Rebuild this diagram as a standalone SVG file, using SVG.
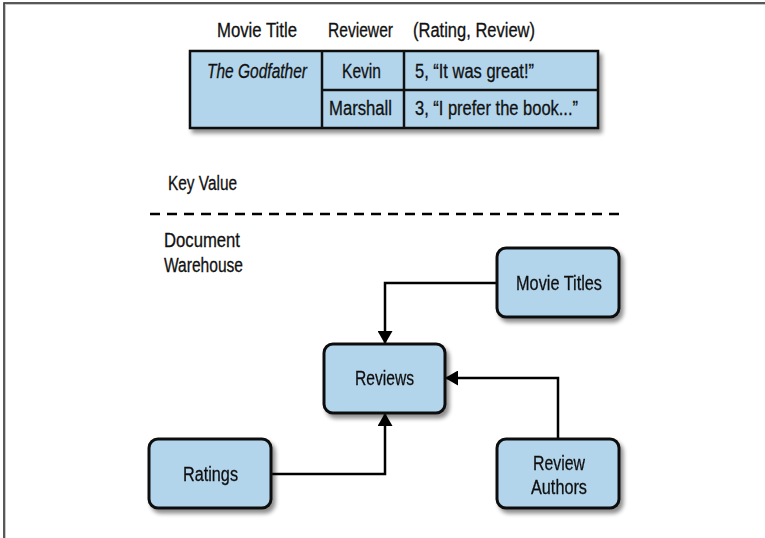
<svg xmlns="http://www.w3.org/2000/svg" width="765" height="538" viewBox="0 0 765 538">
<defs>
<filter id="sh" x="-20%" y="-20%" width="150%" height="150%">
<feGaussianBlur in="SourceAlpha" stdDeviation="2"/>
<feOffset dx="3" dy="4" result="b"/>
<feComponentTransfer><feFuncA type="linear" slope="0.45"/></feComponentTransfer>
<feMerge><feMergeNode/><feMergeNode in="SourceGraphic"/></feMerge>
</filter>
<marker id="ah" viewBox="0 0 13 15" refX="12" refY="7.5" markerWidth="13" markerHeight="15" markerUnits="userSpaceOnUse" orient="auto">
<path d="M0,0 L13,7.5 L0,15 Z" fill="#000"/>
</marker>
<style>
text{font-family:"Liberation Sans",Arial,sans-serif;font-size:20px;fill:#111;stroke:#111;stroke-width:0.3;}
.c{text-anchor:middle;}
.box{fill:#b3d5ec;stroke:#111;stroke-width:3;}
.cell{fill:#b3d5ec;stroke:#111;stroke-width:2.5;}
.ln{fill:none;stroke:#000;stroke-width:2.5;}
</style>
</defs>
<rect width="765" height="538" fill="#fff"/>
<g id="frame">
<path d="M4.5,538 V3.5 H765" fill="none" stroke="#c8c8c8" stroke-width="3"/>
<path d="M4,538 V3 H765" fill="none" stroke="#333" stroke-width="1.5"/>
</g>
<g id="table">
<text class="c" x="257" y="37" textLength="80" lengthAdjust="spacingAndGlyphs">Movie Title</text>
<text class="c" x="360.5" y="37" textLength="65" lengthAdjust="spacingAndGlyphs">Reviewer</text>
<text x="413" y="37" textLength="122" lengthAdjust="spacingAndGlyphs">(Rating, Review)</text>
<g filter="url(#sh)">
<rect class="cell" x="190" y="51" width="408" height="77"/>
</g>
<line class="cell" x1="322" y1="51" x2="322" y2="128"/>
<line class="cell" x1="404" y1="51" x2="404" y2="128"/>
<line class="cell" x1="322" y1="90" x2="598" y2="90"/>
<text class="c" x="257" y="78" font-style="italic" textLength="100" lengthAdjust="spacingAndGlyphs">The Godfather</text>
<text class="c" x="361.5" y="78" textLength="39" lengthAdjust="spacingAndGlyphs">Kevin</text>
<text x="415" y="78" textLength="119" lengthAdjust="spacingAndGlyphs">5, “It was great!”</text>
<text class="c" x="360.5" y="115" textLength="63" lengthAdjust="spacingAndGlyphs">Marshall</text>
<text x="415" y="115" textLength="163" lengthAdjust="spacingAndGlyphs">3, “I prefer the book...”</text>
</g>
<g id="labels">
<text x="168" y="190" textLength="69" lengthAdjust="spacingAndGlyphs">Key Value</text>
<line x1="150" y1="214" x2="622" y2="214" stroke="#000" stroke-width="2.5" stroke-dasharray="10,7"/>
<text x="164" y="247" textLength="76" lengthAdjust="spacingAndGlyphs">Document</text>
<text x="164" y="272" textLength="79" lengthAdjust="spacingAndGlyphs">Warehouse</text>
</g>
<g id="connectors">
<path class="ln" d="M497,283 H385 V343" marker-end="url(#ah)"/>
<path class="ln" d="M558,439 V378 H446" marker-end="url(#ah)"/>
<path class="ln" d="M271,474 H385 V414" marker-end="url(#ah)"/>
</g>
<g id="movie-titles" filter="url(#sh)">
<rect class="box" x="497" y="248" width="122" height="69" rx="9"/>
<text class="c" x="559" y="290" textLength="86" lengthAdjust="spacingAndGlyphs">Movie Titles</text>
</g>
<g id="reviews" filter="url(#sh)">
<rect class="box" x="324" y="344" width="121" height="69" rx="9"/>
<text class="c" x="384.5" y="385" textLength="59" lengthAdjust="spacingAndGlyphs">Reviews</text>
</g>
<g id="ratings" filter="url(#sh)">
<rect class="box" x="149" y="439" width="122" height="69" rx="9"/>
<text class="c" x="210.5" y="481" textLength="55" lengthAdjust="spacingAndGlyphs">Ratings</text>
</g>
<g id="review-authors" filter="url(#sh)">
<rect class="box" x="497" y="439" width="122" height="69" rx="9"/>
<text class="c" x="559" y="470" textLength="52" lengthAdjust="spacingAndGlyphs">Review</text>
<text class="c" x="559" y="494" textLength="56" lengthAdjust="spacingAndGlyphs">Authors</text>
</g>
</svg>
